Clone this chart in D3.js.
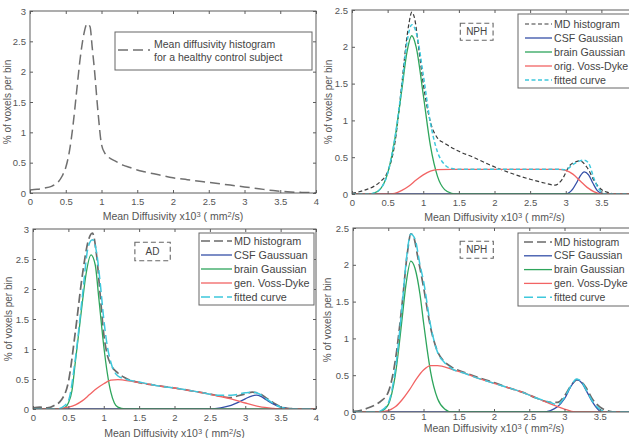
<!DOCTYPE html>
<html>
<head>
<meta charset="utf-8">
<script src="https://cdn.jsdelivr.net/npm/d3@7"></script>
<style>
body { margin: 0; background: #fff; }
svg { display: block; font-family: "Liberation Sans", Arial, sans-serif; }
</style>
</head>
<body>
<svg id="chart" width="629" height="438"></svg>
<script>
// values: x = mean diffusivity (x10^-3 mm^2/s), y = % of voxels per bin
var xTicks = [0, 0.5, 1, 1.5, 2, 2.5, 3, 3.5, 4];
var yTicks3 = [0, 0.5, 1, 1.5, 2, 2.5, 3];
var yTicks25 = [0, 0.5, 1, 1.5, 2, 2.5];

// healthy control
var hcHist = [[0,0.05],[0.1,0.06],[0.2,0.08],[0.3,0.11],[0.35,0.14],[0.4,0.19],[0.45,0.28],[0.5,0.42],[0.55,0.68],
  [0.6,1.1],[0.65,1.65],[0.7,2.2],[0.75,2.6],[0.8,2.79],[0.84,2.74],[0.87,2.4],[0.9,2.05],[0.95,1.35],[1.0,0.8],
  [1.05,0.65],[1.1,0.59],[1.2,0.52],[1.3,0.46],[1.4,0.42],[1.5,0.38],[1.6,0.35],[1.8,0.3],[2.0,0.25],[2.2,0.22],
  [2.4,0.19],[2.6,0.16],[2.8,0.13],[3.0,0.1],[3.2,0.07],[3.4,0.04],[3.6,0.02],[3.8,0.01],[4.0,0.005]];

// NPH, original Voss-Dyke
var nph1Hist = [[0,0.01],[0.1,0.03],[0.2,0.06],[0.3,0.1],[0.4,0.17],[0.5,0.3],[0.6,0.68],[0.7,1.5],[0.76,2.05],
  [0.8,2.32],[0.84,2.47],[0.88,2.38],[0.94,1.95],[1.0,1.5],[1.1,0.98],[1.2,0.76],[1.3,0.69],[1.5,0.58],[1.7,0.5],
  [1.9,0.41],[2.1,0.33],[2.3,0.26],[2.5,0.2],[2.7,0.15],[2.85,0.12],[2.95,0.2],[3.05,0.38],[3.15,0.44],[3.2,0.45],
  [3.3,0.36],[3.4,0.18],[3.5,0.06],[3.6,0.02],[3.7,0],[4,0]];
var nph1Csf = [[0,0],[3.0,0],[3.05,0.02],[3.1,0.07],[3.15,0.15],[3.2,0.24],[3.26,0.3],[3.32,0.26],[3.38,0.15],
  [3.44,0.05],[3.5,0.01],[3.55,0],[4,0]];
var nph1Brain = [[0,0],[0.25,0],[0.3,0.01],[0.4,0.07],[0.5,0.28],[0.6,0.74],[0.7,1.42],[0.77,1.92],[0.84,2.15],
  [0.9,2.0],[1.0,1.35],[1.1,0.66],[1.2,0.24],[1.3,0.06],[1.4,0.01],[1.45,0],[4,0]];
var nph1Vd = [[0,0],[0.5,0],[0.6,0.01],[0.7,0.05],[0.8,0.11],[0.9,0.19],[1.0,0.26],[1.1,0.31],[1.2,0.33],[1.4,0.335],
  [2.9,0.335],[3.0,0.32],[3.1,0.27],[3.2,0.18],[3.3,0.09],[3.4,0.03],[3.5,0],[4,0]];
var nph1Fit = [[0,0],[0.25,0],[0.3,0.01],[0.4,0.07],[0.5,0.28],[0.6,0.75],[0.7,1.47],[0.77,2.05],[0.84,2.3],
  [0.9,2.2],[1.0,1.62],[1.1,0.97],[1.2,0.57],[1.3,0.4],[1.4,0.345],[1.5,0.335],[2.9,0.335],[3.0,0.33],[3.1,0.4],
  [3.2,0.45],[3.26,0.46],[3.32,0.42],[3.4,0.2],[3.45,0.09],[3.5,0.03],[3.55,0],[4,0]];

// AD, generalised Voss-Dyke
var adHist = [[0,0.02],[0.1,0.03],[0.2,0.02],[0.3,0.06],[0.4,0.15],[0.5,0.45],[0.6,1.3],[0.7,2.25],[0.78,2.8],
  [0.84,2.93],[0.9,2.55],[0.95,1.9],[1.0,1.25],[1.05,0.9],[1.1,0.74],[1.2,0.6],[1.3,0.52],[1.5,0.44],[1.7,0.4],
  [2.0,0.35],[2.3,0.29],[2.5,0.25],[2.7,0.2],[2.8,0.19],[2.9,0.22],[3.0,0.25],[3.1,0.28],[3.2,0.26],[3.3,0.18],
  [3.4,0.1],[3.5,0.04],[3.6,0.01],[3.8,0],[4,0]];
var adCsf = [[0,0],[2.5,0],[2.6,0.01],[2.7,0.03],[2.8,0.06],[2.9,0.11],[3.0,0.17],[3.1,0.22],[3.16,0.23],
  [3.22,0.21],[3.3,0.15],[3.4,0.08],[3.5,0.03],[3.6,0.005],[3.65,0],[4,0]];
var adBrain = [[0,0],[0.4,0],[0.45,0.02],[0.5,0.1],[0.55,0.3],[0.6,0.8],[0.65,1.3],[0.7,1.8],[0.75,2.25],
  [0.82,2.57],[0.88,2.4],[0.93,1.85],[1.0,1.05],[1.05,0.6],[1.1,0.28],[1.15,0.1],[1.2,0.03],[1.3,0],[4,0]];
var adVd = [[0,0],[0.3,0],[0.4,0.01],[0.5,0.03],[0.6,0.07],[0.7,0.14],[0.8,0.24],[0.9,0.34],[1.0,0.42],[1.1,0.48],
  [1.2,0.49],[1.4,0.46],[1.6,0.42],[1.8,0.38],[2.0,0.35],[2.2,0.31],[2.4,0.27],[2.6,0.22],[2.8,0.17],[3.0,0.1],
  [3.2,0.04],[3.4,0.01],[3.5,0],[4,0]];
var adFit = [[0,0],[0.35,0],[0.4,0.02],[0.5,0.14],[0.6,0.85],[0.7,1.9],[0.78,2.7],[0.84,2.82],[0.9,2.6],[0.95,2.1],
  [1.0,1.5],[1.05,1.05],[1.1,0.78],[1.2,0.55],[1.3,0.5],[1.5,0.45],[1.8,0.38],[2.0,0.35],[2.4,0.27],[2.6,0.23],
  [2.8,0.23],[3.0,0.27],[3.1,0.28],[3.2,0.25],[3.3,0.17],[3.4,0.09],[3.5,0.03],[3.6,0.005],[3.65,0],[4,0]];

// NPH, generalised Voss-Dyke
var nph2Hist = [[0,0.01],[0.1,0.02],[0.2,0.05],[0.3,0.09],[0.4,0.15],[0.5,0.27],[0.6,0.7],[0.7,1.5],[0.77,2.15],
  [0.82,2.42],[0.86,2.38],[0.92,2.1],[1.0,1.7],[1.1,1.15],[1.2,0.82],[1.3,0.68],[1.4,0.61],[1.6,0.53],[1.8,0.46],
  [2.0,0.4],[2.2,0.33],[2.4,0.27],[2.6,0.19],[2.8,0.13],[2.9,0.13],[3.0,0.22],[3.1,0.37],[3.18,0.44],[3.3,0.34],
  [3.4,0.17],[3.5,0.07],[3.6,0.02],[3.7,0],[4,0]];
var nph2Csf = [[0,0],[2.7,0],[2.8,0.02],[2.9,0.07],[3.0,0.18],[3.1,0.36],[3.17,0.44],[3.25,0.39],[3.32,0.27],
  [3.4,0.13],[3.47,0.04],[3.52,0],[4,0]];
var nph2Brain = [[0,0],[0.35,0],[0.4,0.01],[0.5,0.1],[0.55,0.25],[0.6,0.5],[0.65,0.87],[0.7,1.3],[0.75,1.72],
  [0.82,2.05],[0.88,1.95],[0.95,1.6],[1.0,1.22],[1.05,0.86],[1.1,0.55],[1.2,0.18],[1.3,0.04],[1.4,0],[4,0]];
var nph2Vd = [[0,0],[0.35,0],[0.5,0.02],[0.6,0.07],[0.7,0.17],[0.8,0.3],[0.9,0.45],[1.0,0.57],[1.1,0.63],[1.2,0.63],
  [1.4,0.58],[1.6,0.52],[1.8,0.45],[2.0,0.39],[2.2,0.33],[2.4,0.27],[2.6,0.19],[2.8,0.11],[3.0,0.04],[3.1,0.01],
  [3.2,0],[4,0]];
var nph2Fit = [[0,0],[0.35,0],[0.4,0.02],[0.5,0.12],[0.6,0.57],[0.7,1.47],[0.76,2.1],[0.82,2.42],[0.88,2.35],
  [0.95,2.0],[1.0,1.78],[1.1,1.18],[1.2,0.81],[1.3,0.67],[1.4,0.59],[1.6,0.52],[1.8,0.45],[2.0,0.39],[2.2,0.33],
  [2.4,0.27],[2.6,0.19],[2.8,0.13],[2.9,0.1],[3.0,0.2],[3.1,0.37],[3.17,0.45],[3.25,0.4],[3.32,0.28],[3.4,0.14],
  [3.5,0.04],[3.6,0],[4,0]];

var labelsNph1 = ["MD histogram", "CSF Gaussian", "brain Gaussian", "orig. Voss-Dyke", "fitted curve"];
var labelsAd = ["MD histogram", "CSF Gaussuan", "brain Gaussian", "gen. Voss-Dyke", "fitted curve"];
var labelsNph2 = ["MD histogram", "CSF Gaussian", "brain Gaussian", "gen. Voss-Dyke", "fitted curve"];

var W = 629;
var svg = d3.select("#chart");
var fmt = d3.format("~g");
var axisColor = "#5c5c5c";
var blue = "#3550a8", green = "#2ea55c", red = "#f26464", cyan = "#3ec8dc";

function drawPanel(p, idx) {
  var x = d3.scaleLinear().domain([0, 4]).range([p.x0, p.x1]);
  var y = d3.scaleLinear().domain([0, p.ymax]).range([p.y1, p.y0]);
  var g = svg.append("g");

  g.append("clipPath").attr("id", "clip" + idx)
    .append("rect").attr("x", p.x0).attr("y", p.y0).attr("width", p.x1 - p.x0).attr("height", p.y1 - p.y0);

  var line = d3.line().x(d => x(d[0])).y(d => y(d[1])).curve(d3.curveMonotoneX);

  var plot = g.append("g").attr("clip-path", "url(#clip" + idx + ")");
  p.series.forEach(function(s) {
    plot.append("path").datum(s.data)
      .attr("d", line)
      .attr("fill", "none")
      .attr("stroke", s.color)
      .attr("stroke-width", s.width || 1.3)
      .attr("stroke-dasharray", s.dash || null);
  });

  // matlab style box with inward ticks; labels past the figure edge were cropped away
  var shown = xTicks.filter(v => x(v) < W - 4);
  g.append("g").attr("transform", "translate(0," + p.y1 + ")")
    .call(d3.axisBottom(x).tickValues(xTicks).tickSize(-3).tickSizeOuter(0).tickPadding(p.xPad)
      .tickFormat(v => shown.indexOf(v) >= 0 ? fmt(v) : ""));
  g.append("g").attr("transform", "translate(0," + p.y0 + ")")
    .call(d3.axisTop(x).tickValues(xTicks).tickSize(-3).tickSizeOuter(0).tickFormat(""));
  g.append("g").attr("transform", "translate(" + p.x0 + ",0)")
    .call(d3.axisLeft(y).tickValues(p.yTicks).tickSize(-3).tickSizeOuter(0).tickPadding(4).tickFormat(fmt));
  g.append("g").attr("transform", "translate(" + p.x1 + ",0)")
    .call(d3.axisRight(y).tickValues(p.yTicks).tickSize(-3).tickSizeOuter(0).tickFormat(""));
  g.selectAll(".domain").remove();
  g.selectAll(".tick line").attr("stroke", axisColor);
  g.selectAll(".tick text").attr("fill", "#555").attr("font-size", 9.5).attr("font-family", "Liberation Sans, Arial, sans-serif");
  g.append("rect").attr("x", p.x0).attr("y", p.y0).attr("width", p.x1 - p.x0).attr("height", p.y1 - p.y0)
    .attr("fill", "none").attr("stroke", axisColor).attr("stroke-width", 1);

  // axis titles
  g.append("text")
    .attr("transform", "translate(" + p.ylabX + "," + (p.y0 + p.y1) / 2 + ") rotate(-90)")
    .attr("text-anchor", "middle").attr("dy", "0.35em")
    .attr("font-size", 10).attr("fill", "#555")
    .text("% of voxels per bin");
  var xt = g.append("text")
    .attr("x", (p.x0 + p.x1) / 2).attr("y", p.xlabY)
    .attr("text-anchor", "middle").attr("font-size", 10.5).attr("fill", "#555");
  xt.append("tspan").text("Mean Diffusivity  x10");
  xt.append("tspan").attr("dy", -3.5).attr("font-size", 7.5).text("3");
  xt.append("tspan").attr("dy", 3.5).text(" ( mm");
  xt.append("tspan").attr("dy", -3.5).attr("font-size", 7.5).text("2");
  xt.append("tspan").attr("dy", 3.5).text("/s)");

  // legend
  var L = p.legend;
  var lg = g.append("g").attr("transform", "translate(" + (p.x0 + L.dx) + "," + (p.y0 + L.dy) + ")");
  lg.append("rect").attr("width", L.w).attr("height", L.h)
    .attr("fill", "#fff").attr("stroke", "#666").attr("stroke-width", 1);
  L.items.forEach(function(it, i) {
    var cy = L.first + i * L.step;
    lg.append("line").attr("x1", L.lx0).attr("x2", L.lx1).attr("y1", cy).attr("y2", cy)
      .attr("stroke", it.color).attr("stroke-width", it.width || 1.3).attr("stroke-dasharray", it.dash || null);
  });
  L.text.forEach(function(t, i) {
    lg.append("text").attr("x", L.tx).attr("y", L.textFirst + i * L.textStep).attr("dy", "0.35em")
      .attr("font-size", L.fs).attr("fill", "#444").text(t);
  });

  // dashed group label
  if (p.tag) {
    var t = p.tag;
    g.append("rect").attr("x", x(t.x0)).attr("y", y(t.y1))
      .attr("width", x(t.x1) - x(t.x0)).attr("height", y(t.y0) - y(t.y1))
      .attr("fill", "none").attr("stroke", "#666").attr("stroke-width", 1.1).attr("stroke-dasharray", "5,3");
    g.append("text").attr("x", x((t.x0 + t.x1) / 2)).attr("y", y((t.y0 + t.y1) / 2)).attr("dy", "0.35em")
      .attr("text-anchor", "middle").attr("font-size", 10).attr("fill", "#444").text(t.text);
  }
}

function fourSeries(hist, csf, brain, vd, fit, histDash, fitDash, histColor, histWidth) {
  return [
    { data: hist, color: histColor, dash: histDash, width: histWidth },
    { data: csf, color: blue },
    { data: brain, color: green },
    { data: vd, color: red },
    { data: fit, color: cyan, dash: fitDash, width: 1.5 }
  ];
}

function legendItems(series) {
  return series.map(s => ({ color: s.color, dash: s.dash, width: s.width }));
}

var s2 = fourSeries(nph1Hist, nph1Csf, nph1Brain, nph1Vd, nph1Fit, "4,2.5", "4,2.5", "#3a3a3a", 1.2);
var s3 = fourSeries(adHist, adCsf, adBrain, adVd, adFit, "9,4", "9,4", "#6a6a6a", 1.7);
var s4 = fourSeries(nph2Hist, nph2Csf, nph2Brain, nph2Vd, nph2Fit, "9,4", "9,4", "#6a6a6a", 1.7);
var s1 = [{ data: hcHist, color: "#707070", dash: "10,5", width: 1.5 }];

var panels = [
  { x0: 30, x1: 316, y0: 11, y1: 193, ymax: 3, yTicks: yTicks3, ylabX: 7, xlabY: 220, xPad: 5, series: s1,
    legend: { dx: 85, dy: 21, w: 197, h: 38, lx0: 3, lx1: 35, first: 18, step: 0,
      items: legendItems(s1), tx: 39, text: ["Mean diffusivity histogram", "for a healthy control subject"],
      textFirst: 12, textStep: 13, fs: 10.5 } },
  { x0: 352, x1: 637, y0: 10, y1: 194, ymax: 2.5, yTicks: yTicks25, ylabX: 328, xlabY: 221, xPad: 5, series: s2,
    legend: { dx: 166, dy: 4, w: 116, h: 74, lx0: 7, lx1: 34, first: 10, step: 14,
      items: legendItems(s2), tx: 36, text: labelsNph1, textFirst: 10, textStep: 14, fs: 10.6 },
    tag: { x0: 1.52, x1: 1.98, y0: 2.09, y1: 2.32, text: "NPH" } },
  { x0: 33, x1: 316, y0: 229, y1: 409, ymax: 3, yTicks: yTicks3, ylabX: 8, xlabY: 437, xPad: 5, series: s3,
    legend: { dx: 166, dy: 4, w: 115, h: 72, lx0: 2, lx1: 33, first: 8, step: 14,
      items: legendItems(s3), tx: 35, text: labelsAd, textFirst: 8, textStep: 14, fs: 10.8 },
    tag: { x0: 1.44, x1: 1.94, y0: 2.47, y1: 2.78, text: "AD" } },
  { x0: 353, x1: 635, y0: 228, y1: 412, ymax: 2.5, yTicks: yTicks25, ylabX: 327, xlabY: 432, xPad: 1, series: s4,
    legend: { dx: 165, dy: 5, w: 116, h: 73, lx0: 6, lx1: 34, first: 9, step: 13.8,
      items: legendItems(s4), tx: 36, text: labelsNph2, textFirst: 9, textStep: 13.8, fs: 10.5 },
    tag: { x0: 1.52, x1: 1.99, y0: 2.09, y1: 2.32, text: "NPH" } }
];

panels.forEach(drawPanel);
</script>
</body>
</html>
